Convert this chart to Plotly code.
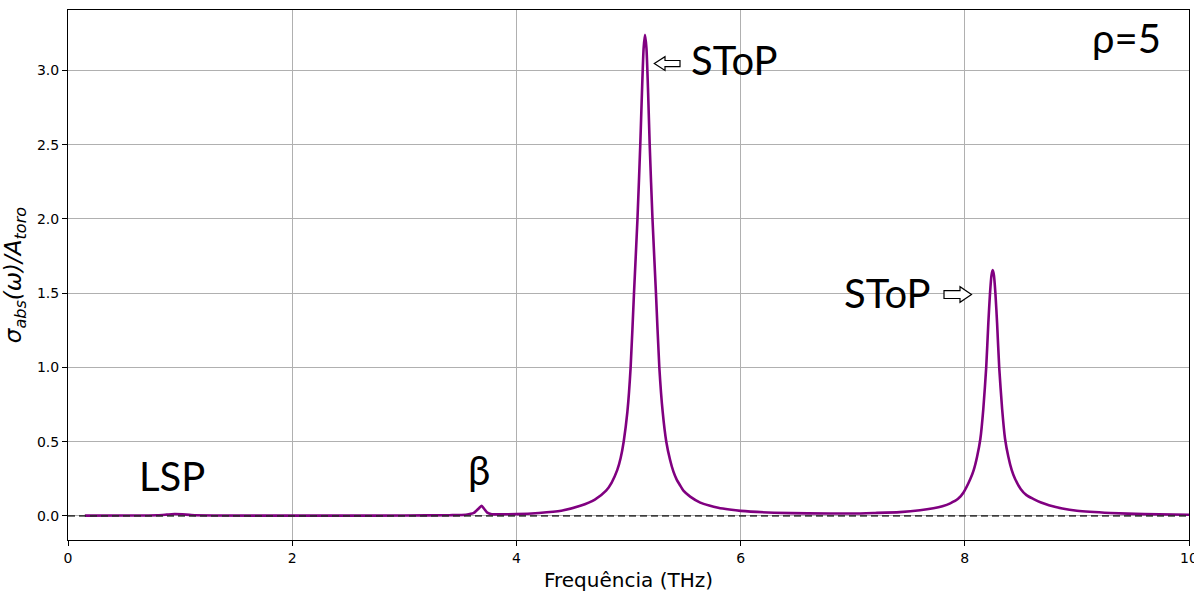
import plotly.graph_objects as go

# Frequency (THz) and normalized absorption cross-section
freq = [0.15, 0.5, 0.8, 0.88, 0.95, 1.02, 1.1, 1.3, 2.0, 2.5, 3.0, 3.4, 3.55, 3.62, 3.67, 3.69, 3.71, 3.74, 3.78,
        3.9, 4.0, 4.2, 4.4, 4.57, 4.7, 4.8, 4.85, 4.9, 4.93, 4.957, 4.99, 5.019, 5.049, 5.08, 5.105, 5.12, 5.135,
        5.147, 5.16, 5.175, 5.189, 5.214, 5.245, 5.275, 5.305, 5.337, 5.37, 5.40, 5.43, 5.457, 5.49, 5.55, 5.64,
        5.72, 5.8, 5.9, 6.0, 6.3, 6.6, 7.0, 7.2, 7.42, 7.6, 7.72, 7.8, 7.87, 7.94, 7.99, 8.05, 8.08, 8.11, 8.139,
        8.165, 8.191, 8.21, 8.225, 8.238, 8.249, 8.26, 8.273, 8.288, 8.307, 8.333, 8.359, 8.388, 8.418, 8.448,
        8.50, 8.55, 8.61, 8.68, 8.75, 8.87, 9.0, 9.3, 9.6, 10.0]
sigma = [0.002, 0.003, 0.005, 0.009, 0.013, 0.011, 0.006, 0.003, 0.002, 0.002, 0.003, 0.005, 0.008, 0.02, 0.055,
         0.068, 0.05, 0.022, 0.012, 0.011, 0.012, 0.02, 0.035, 0.068, 0.11, 0.17, 0.225, 0.31, 0.39, 0.50, 0.70,
         1.00, 1.50, 2.00, 2.50, 2.85, 3.15, 3.24, 3.15, 2.85, 2.50, 2.00, 1.50, 1.00, 0.70, 0.50, 0.38, 0.30,
         0.245, 0.21, 0.17, 0.13, 0.09, 0.07, 0.055, 0.043, 0.034, 0.022, 0.017, 0.016, 0.02, 0.026, 0.038, 0.052,
         0.066, 0.085, 0.115, 0.16, 0.25, 0.31, 0.40, 0.52, 0.72, 1.00, 1.30, 1.50, 1.62, 1.655, 1.62, 1.50, 1.30,
         1.00, 0.72, 0.52, 0.40, 0.31, 0.25, 0.18, 0.14, 0.115, 0.09, 0.072, 0.05, 0.035, 0.02, 0.012, 0.008]

x_ticks = [0, 2, 4, 6, 8, 10]
y_ticks = [0.0, 0.5, 1.0, 1.5, 2.0, 2.5, 3.0]

labels = ["SToP", "SToP", "LSP", "β", "ρ=5"]

# plot area in pixels
L, R, T, B = 68, 1189, 10, 540


def px(xp, yp):
    return (xp - L) / (R - L), (B - yp) / (B - T)


fig = go.Figure()
fig.add_trace(go.Scatter(x=freq, y=sigma, mode="lines",
                         line=dict(color="rgb(128,0,128)", width=2.6, shape="spline", smoothing=0.6),
                         showlegend=False))

fig.add_hline(y=0, line=dict(color="rgba(40,40,40,0.85)", width=1.8, dash="7px,4px"), layer="above")


def arrow_path(pts):
    s = ""
    for i, (a, b) in enumerate(pts):
        u, v = px(a, b)
        s += ("M" if i == 0 else "L") + f"{u:.5f},{v:.5f} "
    return s + "Z"


# left-pointing block arrow
arrow1 = [(654.3, 63.5), (665, 56.7), (665, 60.5), (680, 60.5), (680, 66.7), (665, 66.7), (665, 70.5)]
# right-pointing block arrow
arrow2 = [(971.5, 294.5), (960, 286.7), (960, 290.7), (944, 290.7), (944, 298.5), (960, 298.5), (960, 302.3)]
for a in (arrow1, arrow2):
    fig.add_shape(type="path", xref="paper", yref="paper", path=arrow_path(a),
                  fillcolor="white", line=dict(color="black", width=1.2))

ann_pos = [(734, 60), (887, 293), (172, 476), (479, 470), (1126, 38)]
for txt, (xp, yp) in zip(labels, ann_pos):
    u, v = px(xp, yp)
    fig.add_annotation(x=u, y=v, xref="paper", yref="paper", text=txt, showarrow=False,
                       xanchor="center", yanchor="middle",
                       font=dict(family="Lato, Open Sans, sans-serif", size=40, color="black"))

axis_common = dict(showline=True, linecolor="black", linewidth=1, mirror=True,
                   ticks="outside", ticklen=5, tickcolor="black", tickwidth=1,
                   showgrid=True, gridcolor="#b0b0b0", gridwidth=1, zeroline=False,
                   automargin=False, ticklabeloverflow="allow",
                   tickfont=dict(family="DejaVu Sans", size=14, color="black"))

fig.update_xaxes(range=[0, 10], tickvals=x_ticks, ticktext=[str(t) for t in x_ticks],
                 title=dict(text="Frequência (THz)", font=dict(family="DejaVu Sans", size=20, color="black")),
                 **axis_common)
fig.update_yaxes(range=[-0.162, 3.407], tickvals=y_ticks, ticktext=[f"{t:.1f}" for t in y_ticks],
                 title=dict(text="<i>σ<sub>abs</sub>(ω)/A<sub>toro</sub></i>",
                            font=dict(family="DejaVu Sans", size=23, color="black")),
                 **axis_common)

fig.update_layout(width=1194, height=592, margin=dict(l=L, r=1194 - R, t=T, b=592 - B),
                  plot_bgcolor="white", paper_bgcolor="white")

fig.write_html("out.html")
